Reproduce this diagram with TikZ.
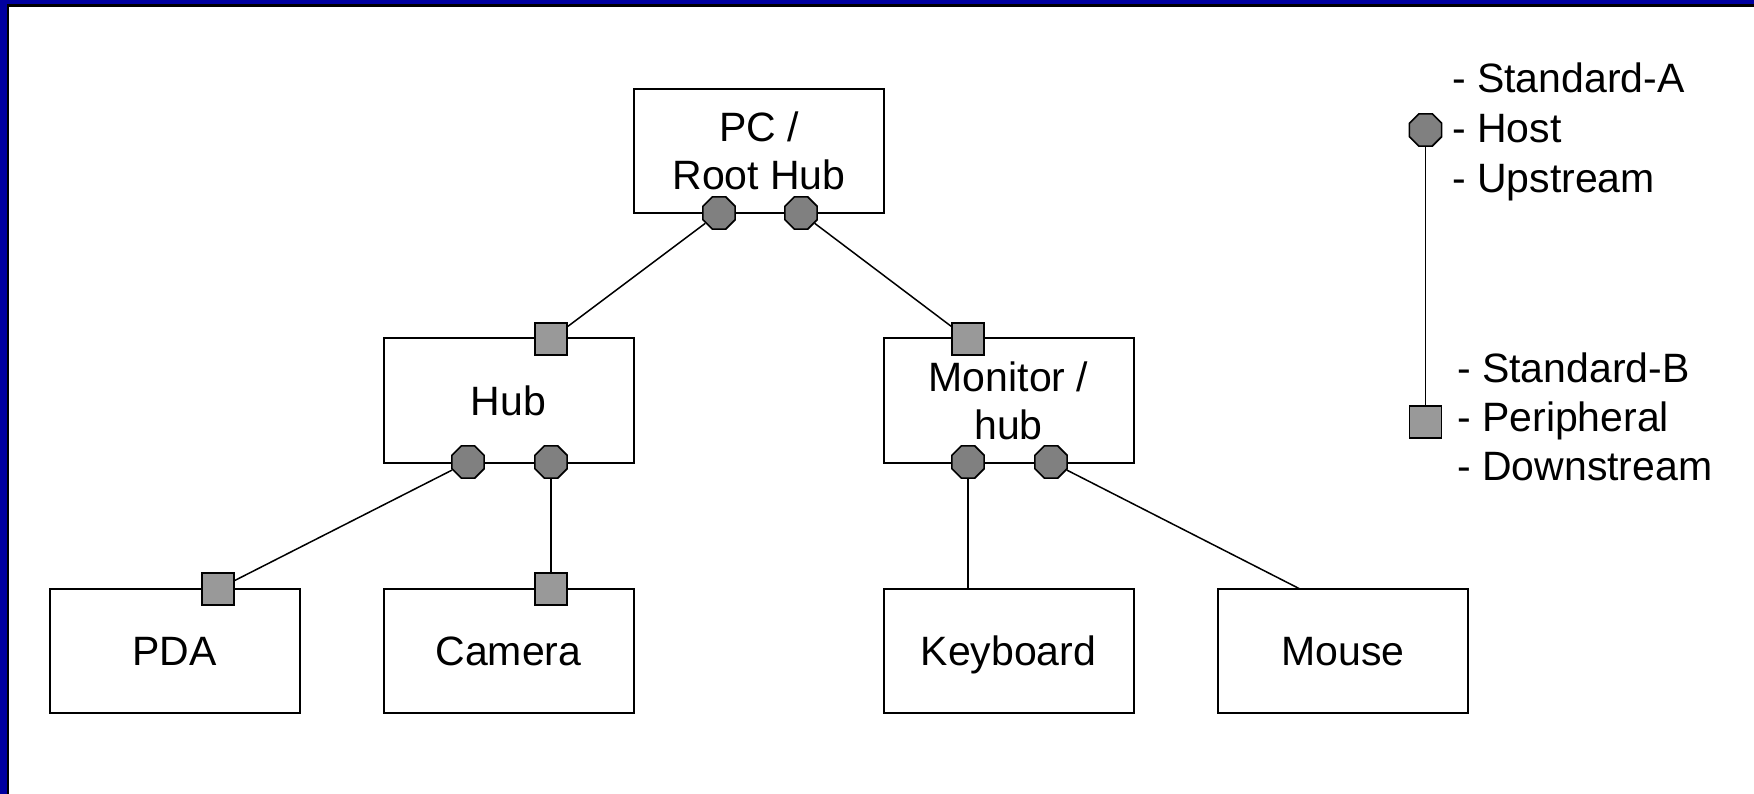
\documentclass[tikz,border=0pt]{standalone}
\usepackage{fontspec}
\setmainfont{Liberation Sans}
\usetikzlibrary{shapes.geometric}
\definecolor{frameblue}{RGB}{0,0,160}
\definecolor{hostgray}{RGB}{128,128,128}
\definecolor{periphgray}{RGB}{153,153,153}
\newcommand\tstrut{\rule[-9pt]{0pt}{47pt}}
\begin{document}
\begin{tikzpicture}[x=1pt,y=-1pt,
  devbox/.style={draw,line width=2pt,fill=white,rectangle,minimum width=250pt,minimum height=124pt,align=center,inner sep=0pt,font=\fontsize{41}{48}\selectfont},
  hostport/.style={draw,line width=1.6pt,fill=hostgray,regular polygon,regular polygon sides=8,minimum size=35pt,inner sep=0pt},
  periphport/.style={draw,line width=1.6pt,fill=periphgray,rectangle,minimum size=32pt,inner sep=0pt},
  wire/.style={line width=1.5pt},
  legtext/.style={anchor=base west,inner sep=0pt,font=\fontsize{41}{48}\selectfont}]
\useasboundingbox (0,0) rectangle (1754,794);
\fill[white] (0,0) rectangle (1754,794);
% slide frame
\fill[frameblue] (0,0) rectangle (1754,4.5);
\fill[frameblue] (0,0) rectangle (6.7,794);
\fill[black] (6.7,4.5) rectangle (1754,7);
\fill[black] (6.7,4.5) rectangle (8.7,794);
% devices
\node[devbox] (pc) at (759,151) {PC /\tstrut\\Root Hub\tstrut};
\node[devbox] (hub) at (508.5,400.5) {Hub\tstrut};
\node[devbox] (mon) at (1008.5,400.5) {Monitor /\tstrut\\hub\tstrut};
\node[devbox] (pda) at (174.5,651) {PDA\tstrut};
\node[devbox] (cam) at (508.5,651) {Camera\tstrut};
\node[devbox] (kbd) at (1008.5,651) {Keyboard\tstrut};
\node[devbox] (mouse) at (1343,651) {Mouse\tstrut};
% ports
\node[hostport] (pc1) at (719,213) {};
\node[hostport] (pc2) at (801,213) {};
\node[hostport] (hub1) at (468,462) {};
\node[hostport] (hub2) at (551,462) {};
\node[hostport] (mon1) at (968,462) {};
\node[hostport] (mon2) at (1051,462) {};
\node[periphport] (hubup) at (551,339) {};
\node[periphport] (monup) at (968,339) {};
\node[periphport] (pdaup) at (218,589) {};
\node[periphport] (camup) at (551,589) {};
\coordinate (mousein) at (1300,589);
% wires
\draw[wire] (pc1) -- (hubup);
\draw[wire] (pc2) -- (monup);
\draw[wire] (hub1) -- (pdaup);
\draw[wire] (hub2) -- (camup);
\draw[wire] (mon1) -- (mon1 |- kbd.north);
\draw[wire] (mon2) -- (mousein);
% legend
\node[hostport] (lhost) at (1425.5,130) {};
\node[periphport] (lper) at (1425.5,422) {};
\draw[wire] (lhost) -- (lper);
\node[legtext] (la1) at (1452,93) {- Standard-A};
\node[legtext] (la2) at (1452,143) {- Host};
\node[legtext] (la3) at (1452,193) {- Upstream};
\node[legtext] (lb1) at (1457,382) {- Standard-B};
\node[legtext] (lb2) at (1457,431) {- Peripheral};
\node[legtext] (lb3) at (1457,480) {- Downstream};
\end{tikzpicture}
\end{document}
